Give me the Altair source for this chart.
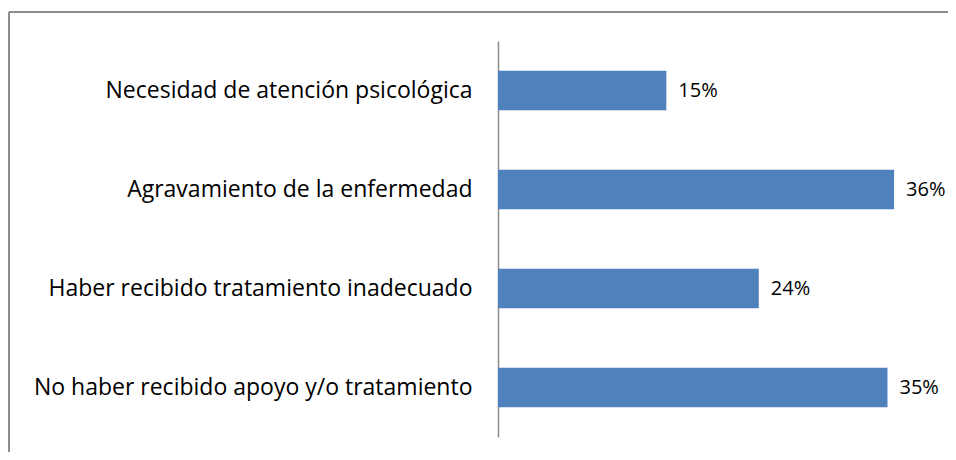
import altair as alt
import pandas as pd

categories = [
    "Necesidad de atención psicológica",
    "Agravamiento de la enfermedad",
    "Haber recibido tratamiento inadecuado",
    "No haber recibido apoyo y/o tratamiento",
]
values = [15.3, 36.0, 23.7, 35.4]
labels = ["15%", "36%", "24%", "35%"]

df = pd.DataFrame({"cat": categories, "val": values, "lab": labels})

FONT = "Open Sans"
y = alt.Y(
    "cat:N",
    sort=categories,
    scale=alt.Scale(paddingInner=0.6, paddingOuter=0.3),
    axis=alt.Axis(
        title=None, ticks=False, labelPadding=26, labelFontSize=23, labelFont=FONT,
        labelColor="black", domainColor="#8c8c8c", domainWidth=1.5, labelLimit=0, grid=False,
    ),
)
x = alt.X("val:Q", scale=alt.Scale(domain=[0, 40.9], nice=False, zero=True), axis=None)

bars = alt.Chart(df).mark_bar(color="#4F81BD").encode(x=x, y=y)
text = alt.Chart(df).mark_text(
    align="left", baseline="middle", dx=12, fontSize=20, font=FONT, color="black"
).encode(x=x, y=y, text="lab:N")

frame_df = pd.DataFrame({"k": [0]})
top_rule = alt.Chart(frame_df).mark_rule(color="#8c8c8c", strokeWidth=2).encode(
    x=alt.value(-489), x2=alt.value(460), y=alt.value(-29)
)
left_rule = alt.Chart(frame_df).mark_rule(color="#8c8c8c", strokeWidth=2).encode(
    x=alt.value(-489), y=alt.value(-29), y2=alt.value(420)
)

chart = (
    alt.layer(bars, text, top_rule, left_rule)
    .properties(
        width=450, height=396,
        autosize=alt.AutoSizeParams(type="none"),
        padding={"left": 490, "top": 33, "right": 0, "bottom": 15},
        background="white",
    )
    .configure_view(stroke=None)
)

chart.save("out.html", embed_options={"renderer": "svg", "actions": False})
